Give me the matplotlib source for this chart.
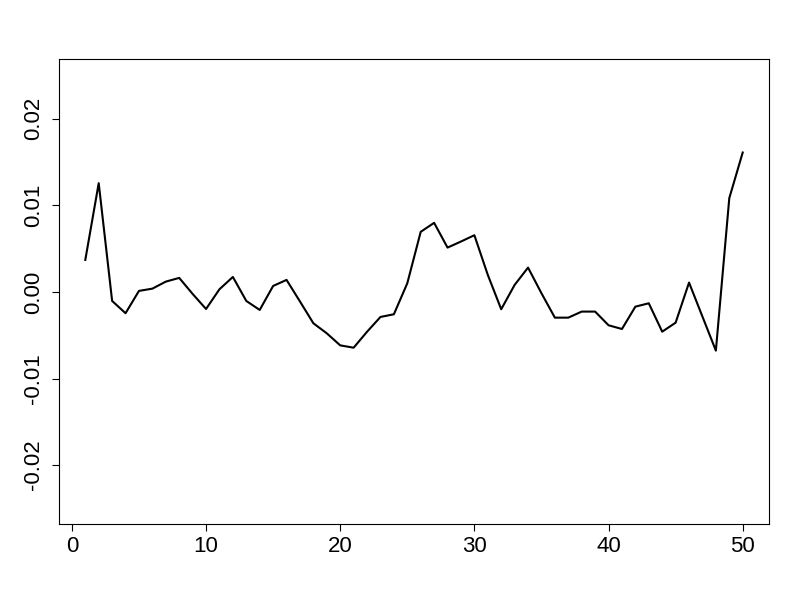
import matplotlib
matplotlib.use("Agg")
import matplotlib.pyplot as plt

x = list(range(1, 51))
y = [0.0037, 0.01256, -0.00104, -0.00246, 0.00012, 0.00038, 0.00119, 0.00162, -0.00023, -0.00197,
     0.00031, 0.00173, -0.00104, -0.00208, 0.00069, 0.00139, -0.0011, -0.00362, -0.00478, -0.00617,
     -0.00644, -0.0046, -0.00289, -0.00258, 0.00100, 0.00694, 0.00798, 0.00512, 0.00582, 0.00655,
     0.00197, -0.0020, 0.00081, 0.00281, -0.00015, -0.00297, -0.00297, -0.00227, -0.00227, -0.00385,
     -0.00428, -0.0017, -0.00131, -0.00459, -0.00355, 0.00108, -0.00285, -0.00678, 0.01083, 0.0161]
xticks = [0, 10, 20, 30, 40, 50]
yticks = [-0.02, -0.01, 0.00, 0.01, 0.02]
ylabels = ["-0.02", "-0.01", "0.00", "0.01", "0.02"]

plt.rcParams['font.family'] = ['Liberation Sans', 'DejaVu Sans']
fig = plt.figure(figsize=(8, 6), dpi=100)
ax = fig.add_axes([59/800, 76/600, 710/800, 465/600])
ax.plot(x, y, color='black', lw=1.5)
ax.set_xlim(-0.96, 51.96)
ax.set_ylim(-0.0268, 0.0269)
ax.set_xticks(xticks)
ax.set_xticklabels([str(t) for t in xticks])
ax.set_yticks(yticks)
ax.set_yticklabels(ylabels, rotation=90, va='center')
ax.tick_params(axis='both', labelsize=16, length=5, width=0.8, color='black')
ax.tick_params(axis='x', pad=4)
ax.tick_params(axis='y', pad=6)
for s in ax.spines.values():
    s.set_linewidth(0.8)
    s.set_color('black')
fig.savefig("out.png", dpi=100)
